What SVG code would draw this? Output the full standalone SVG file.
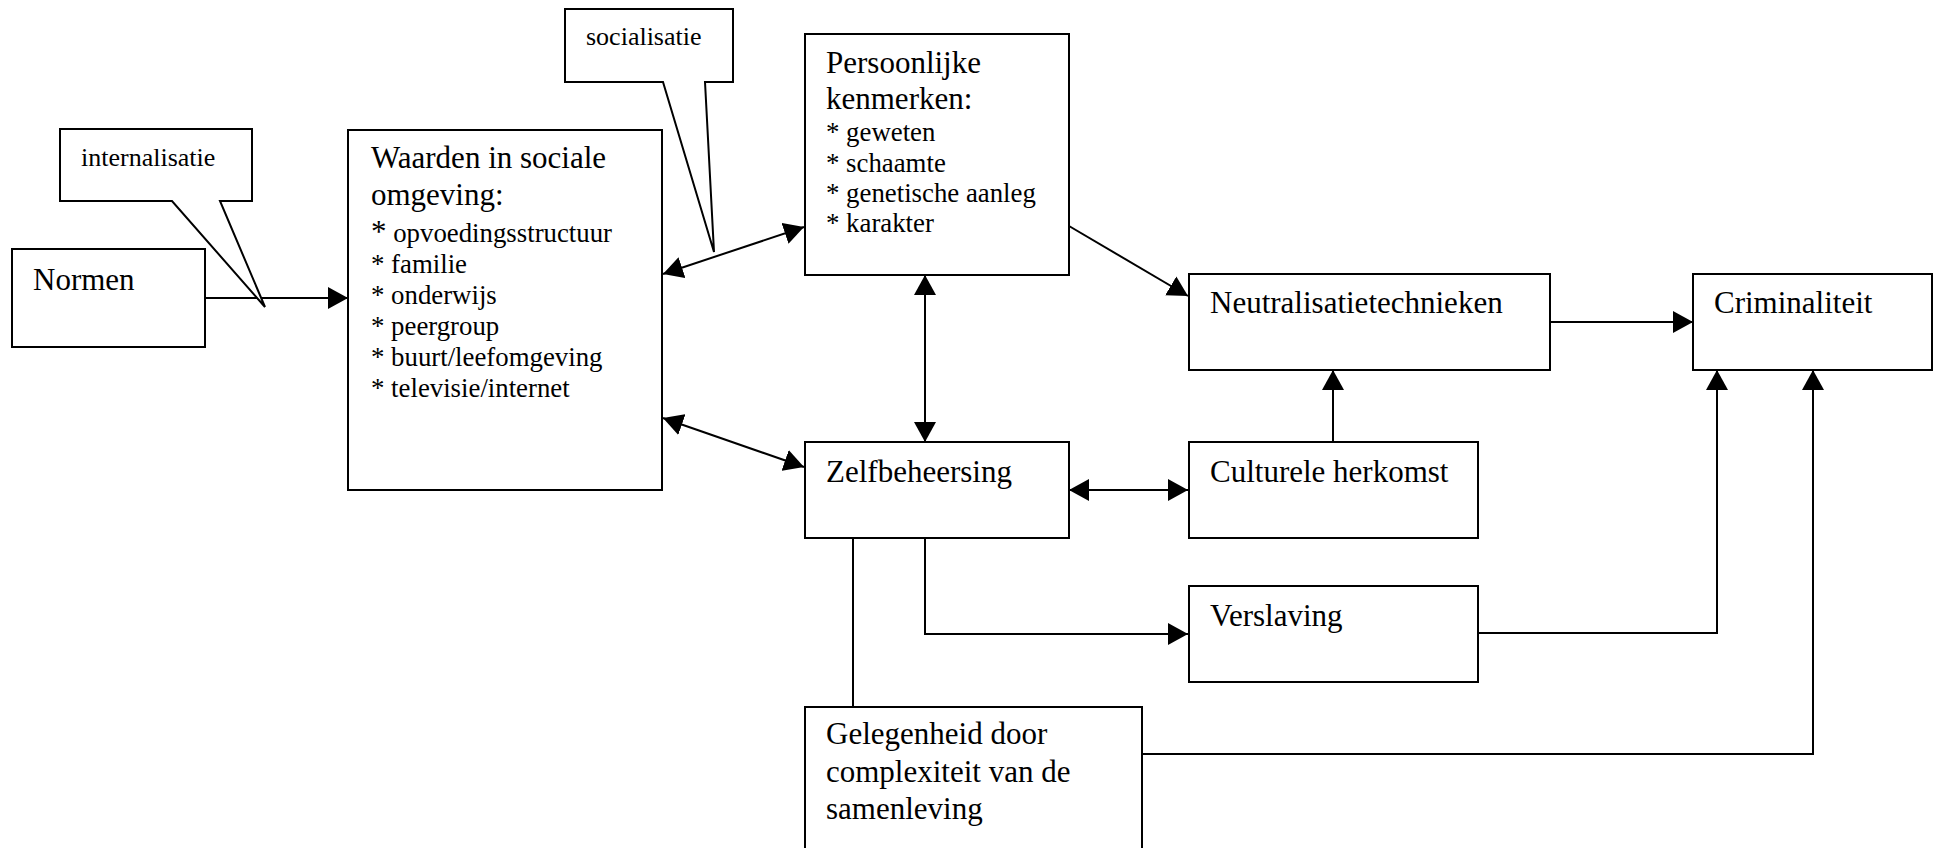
<svg xmlns="http://www.w3.org/2000/svg" width="1933" height="848" viewBox="0 0 1933 848">
<style>
.box{fill:#fff;stroke:#000;stroke-width:2}
.ln{fill:none;stroke:#000;stroke-width:2}
.t{font-family:"Liberation Serif","Times New Roman",serif;fill:#000}
.h{font-size:31px}
.i{font-size:26.8px}
.c{font-size:26px}
</style>
<defs>
<marker id="ah" markerUnits="userSpaceOnUse" markerWidth="20" markerHeight="22" viewBox="0 0 20 22" refX="20" refY="11" orient="auto-start-reverse">
<path d="M0,0 L20,11 L0,22 z" fill="#000"/>
</marker>
</defs>
<rect width="1933" height="848" fill="#fff"/>
<g id="connectors">
<line class="ln" x1="205" y1="298" x2="348" y2="298" marker-end="url(#ah)"/>
<line class="ln" x1="663" y1="274" x2="804" y2="227" marker-start="url(#ah)" marker-end="url(#ah)"/>
<line class="ln" x1="663" y1="418" x2="804" y2="467" marker-start="url(#ah)" marker-end="url(#ah)"/>
<line class="ln" x1="925" y1="275" x2="925" y2="442" marker-start="url(#ah)" marker-end="url(#ah)"/>
<line class="ln" x1="1069" y1="226" x2="1188" y2="296" marker-end="url(#ah)"/>
<line class="ln" x1="1069" y1="490" x2="1188" y2="490" marker-start="url(#ah)" marker-end="url(#ah)"/>
<line class="ln" x1="1333" y1="442" x2="1333" y2="370" marker-end="url(#ah)"/>
<line class="ln" x1="1550" y1="322" x2="1693" y2="322" marker-end="url(#ah)"/>
<polyline class="ln" points="925,538 925,634 1188,634" marker-end="url(#ah)"/>
<line class="ln" x1="853" y1="538" x2="853" y2="707"/>
<polyline class="ln" points="1478,633 1717,633 1717,370" marker-end="url(#ah)"/>
<polyline class="ln" points="1142,754 1813,754 1813,370" marker-end="url(#ah)"/>
</g>
<g id="internalisatie">
<path class="box" d="M60,129 L252,129 L252,201 L220,201 L265,307 L172,201 L60,201 Z"/>
<text class="t c" x="81" y="166">internalisatie</text>
</g>
<g id="socialisatie">
<path class="box" d="M565,9 L733,9 L733,82 L705,82 L714,252 L663,82 L565,82 Z"/>
<text class="t c" x="586" y="45">socialisatie</text>
</g>
<g id="normen">
<rect class="box" x="12" y="249" width="193" height="98"/>
<text class="t h" x="33" y="290">Normen</text>
</g>
<g id="waarden">
<rect class="box" x="348" y="130" width="314" height="360"/>
<text class="t h" x="371" y="168">Waarden in sociale</text>
<text class="t h" x="371" y="205">omgeving:</text>
<text class="t i" x="371" y="242"><tspan font-size="31">*</tspan> opvoedingsstructuur</text>
<text class="t i" x="371" y="273">* familie</text>
<text class="t i" x="371" y="304">* onderwijs</text>
<text class="t i" x="371" y="335">* peergroup</text>
<text class="t i" x="371" y="366">* buurt/leefomgeving</text>
<text class="t i" x="371" y="397">* televisie/internet</text>
</g>
<g id="persoonlijke">
<rect class="box" x="805" y="34" width="264" height="241"/>
<text class="t h" x="826" y="73">Persoonlijke</text>
<text class="t h" x="826" y="109">kenmerken:</text>
<text class="t i" x="826" y="141" font-size="27.3">* geweten</text>
<text class="t i" x="826" y="172" font-size="27.3">* schaamte</text>
<text class="t i" x="826" y="202" font-size="27.3">* genetische aanleg</text>
<text class="t i" x="826" y="232" font-size="27.3">* karakter</text>
</g>
<g id="zelfbeheersing">
<rect class="box" x="805" y="442" width="264" height="96"/>
<text class="t h" x="826" y="482">Zelfbeheersing</text>
</g>
<g id="neutralisatie">
<rect class="box" x="1189" y="274" width="361" height="96"/>
<text class="t h" x="1210" y="313">Neutralisatietechnieken</text>
</g>
<g id="criminaliteit">
<rect class="box" x="1693" y="274" width="239" height="96"/>
<text class="t h" x="1714" y="313">Criminaliteit</text>
</g>
<g id="culturele">
<rect class="box" x="1189" y="442" width="289" height="96"/>
<text class="t h" x="1210" y="482">Culturele herkomst</text>
</g>
<g id="verslaving">
<rect class="box" x="1189" y="586" width="289" height="96"/>
<text class="t h" x="1210" y="626">Verslaving</text>
</g>
<g id="gelegenheid">
<rect class="box" x="805" y="707" width="337" height="150"/>
<text class="t h" x="826" y="744">Gelegenheid door</text>
<text class="t h" x="826" y="782">complexiteit van de</text>
<text class="t h" x="826" y="819">samenleving</text>
</g>
</svg>
